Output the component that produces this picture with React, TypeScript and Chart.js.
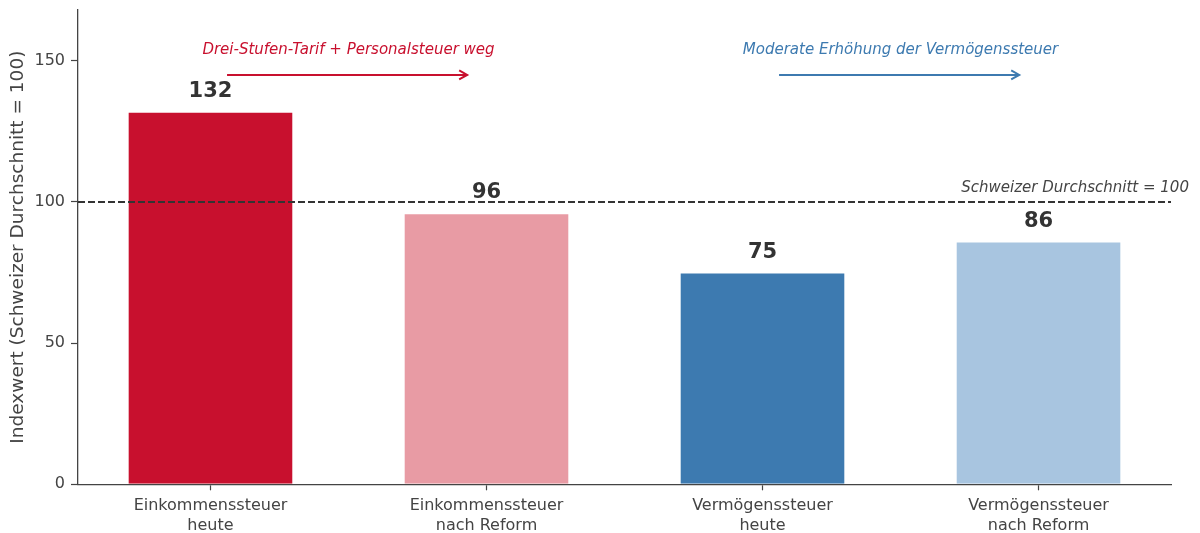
import React, { useEffect, useRef } from 'react';
import { Chart, registerables } from 'chart.js';

Chart.register(...registerables);

// ---- Data ----
const categories: string[][] = [
  ['Einkommenssteuer', 'heute'],
  ['Einkommenssteuer', 'nach Reform'],
  ['Vermögenssteuer', 'heute'],
  ['Vermögenssteuer', 'nach Reform'],
];
const values: number[] = [132, 96, 75, 86];
const valueLabels: string[] = ['132', '96', '75', '86'];
const barColors: string[] = ['#C8102E', '#E89BA4', '#3D7AB0', '#A8C5E0'];
const yTicks: number[] = [0, 50, 100, 150];
const yMax = 168;
const xMin = -0.48;
const xMax = 3.48;

const yTitle = 'Indexwert (Schweizer Durchschnitt = 100)';
const referenceValue = 100;
const referenceLabel = 'Schweizer Durchschnitt = 100';
const referenceLabelX = 3.545;
const referenceLabelY = 103.4;

const annotationTexts: string[] = [
  'Drei-Stufen-Tarif + Personalsteuer weg',
  'Moderate Erhöhung der Vermögenssteuer',
];
const annotationColors: string[] = ['#C8102E', '#3D7AB0'];
const annotationTextX: number[] = [0.5, 2.5];
const annotationTextY = 152.4;
const arrowStartX: number[] = [0.06, 2.06];
const arrowEndX: number[] = [0.93, 2.93];
const arrowY = 145;

const FONT = '"DejaVu Sans", Verdana, sans-serif';
const TEXT = '#444444';

const overlayPlugin = {
  id: 'overlay',
  afterDraw(chart: any) {
    const { ctx, chartArea, scales } = chart;
    const xs = scales.x;
    const ys = scales.y;
    ctx.save();

    // reference line
    const ry = ys.getPixelForValue(referenceValue);
    ctx.beginPath();
    ctx.setLineDash([7, 3]);
    ctx.lineWidth = 1.8;
    ctx.strokeStyle = '#333333';
    ctx.moveTo(chartArea.left, ry);
    ctx.lineTo(chartArea.right, ry);
    ctx.stroke();
    ctx.setLineDash([]);

    ctx.font = `italic 15px ${FONT}`;
    ctx.fillStyle = TEXT;
    ctx.textAlign = 'right';
    ctx.textBaseline = 'alphabetic';
    ctx.fillText(referenceLabel, xs.getPixelForValue(referenceLabelX), ys.getPixelForValue(referenceLabelY));

    // value labels
    ctx.font = `bold 21px ${FONT}`;
    ctx.fillStyle = '#333333';
    ctx.textAlign = 'center';
    values.forEach((v, i) => {
      ctx.fillText(valueLabels[i], xs.getPixelForValue(i), ys.getPixelForValue(v) - 15);
    });

    // annotations
    annotationTexts.forEach((t, i) => {
      const c = annotationColors[i];
      ctx.font = `italic 15px ${FONT}`;
      ctx.fillStyle = c;
      ctx.textAlign = 'center';
      ctx.fillText(t, xs.getPixelForValue(annotationTextX[i]), ys.getPixelForValue(annotationTextY));
      const x0 = xs.getPixelForValue(arrowStartX[i]);
      const x1 = xs.getPixelForValue(arrowEndX[i]);
      const y = ys.getPixelForValue(arrowY);
      ctx.strokeStyle = c;
      ctx.lineWidth = 2;
      ctx.beginPath();
      ctx.moveTo(x0, y);
      ctx.lineTo(x1, y);
      ctx.stroke();
      ctx.beginPath();
      ctx.moveTo(x1 - 8, y - 4.5);
      ctx.lineTo(x1, y);
      ctx.lineTo(x1 - 8, y + 4.5);
      ctx.stroke();
    });

    ctx.restore();
  },
};

export default function App() {
  const ref = useRef<HTMLCanvasElement | null>(null);
  useEffect(() => {
    if (!ref.current) return;
    const chart = new Chart(ref.current, {
      type: 'bar',
      data: {
        datasets: [
          {
            data: values.map((v, i) => ({ x: i, y: v })) as any,
            backgroundColor: barColors,
            borderColor: '#ffffff',
            borderWidth: 1,
            barPercentage: 0.6,
            categoryPercentage: 1,
          },
        ],
      },
      options: {
        responsive: false,
        devicePixelRatio: 1,
        animation: false,
        layout: { padding: { top: 10, right: 29, left: 0, bottom: 0 } },
        plugins: {
          legend: { display: false },
          tooltip: { enabled: false },
        },
        scales: {
          x: {
            type: 'linear',
            min: xMin,
            max: xMax,
            offset: false,
            afterBuildTicks: (scale: any) => {
              scale.ticks = categories.map((_, i) => ({ value: i }));
            },
            afterFit: (scale: any) => {
              scale.height = 48.7;
              scale.paddingLeft = 0;
              scale.paddingRight = 0;
            },
            ticks: {
              autoSkip: false,
              maxRotation: 0,
              padding: 6,
              color: TEXT,
              font: { family: FONT, size: 16, lineHeight: 1.25 },
              callback: (value: any) => categories[Math.round(value)] ?? '',
            },
            grid: {
              offset: false,
              drawOnChartArea: false,
              drawTicks: true,
              tickLength: 6,
              tickColor: '#444444',
              tickWidth: 1.2,
            },
            border: { display: true, color: '#444444', width: 1.3 },
          },
          y: {
            type: 'linear',
            min: 0,
            max: yMax,
            afterBuildTicks: (scale: any) => {
              scale.ticks = yTicks.map((v) => ({ value: v }));
            },
            afterFit: (scale: any) => {
              scale.width = 78;
              scale.paddingTop = 0;
              scale.paddingBottom = 0;
            },
            ticks: {
              padding: 6,
              color: TEXT,
              font: { family: FONT, size: 16 },
            },
            grid: {
              drawOnChartArea: false,
              drawTicks: true,
              tickLength: 7,
              tickColor: '#444444',
              tickWidth: 1.2,
            },
            border: { display: true, color: '#444444', width: 1.3 },
            title: {
              display: true,
              text: yTitle,
              color: TEXT,
              font: { family: FONT, size: 18.5 },
              padding: { top: 7, bottom: 0 },
            },
          },
        },
      },
      plugins: [overlayPlugin],
    } as any);
    return () => chart.destroy();
  }, []);

  return (
    <div style={{ position: 'fixed', left: 0, top: 0, width: 1200, height: 533, background: '#ffffff' }}>
      <canvas ref={ref} width={1200} height={533} style={{ display: 'block' }} />
    </div>
  );
}
